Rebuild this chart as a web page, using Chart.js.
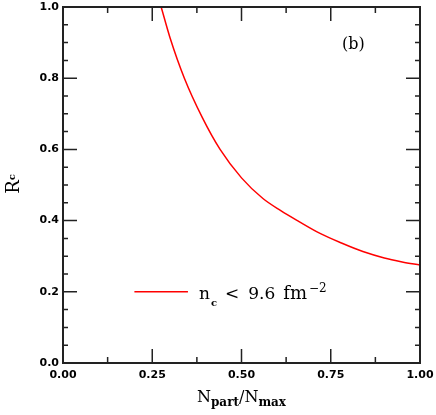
<!DOCTYPE html>
<html>
<head>
<meta charset="utf-8">
<script src="https://cdn.jsdelivr.net/npm/chart.js@4.4.1/dist/chart.umd.min.js"></script>
<style>
html, body { margin: 0; padding: 0; background: #fff; }
#wrap { width: 436px; height: 415px; }
</style>
</head>
<body>
<div id="wrap"><canvas id="rcChart"></canvas></div>
<script>
// N_part / N_max
const nPartValues = [0.275, 0.30, 0.34, 0.39, 0.44, 0.50, 0.56, 0.61, 0.66, 0.72, 0.78, 0.84, 0.90, 0.95, 1.00];
// R_c
const rcValues = [1.00, 0.913, 0.80, 0.69, 0.60, 0.52, 0.462, 0.428, 0.398, 0.364, 0.337, 0.313, 0.295, 0.284, 0.275];

const xTickValues = [0, 0.25, 0.5, 0.75, 1.0];
const yTickValues = [0, 0.2, 0.4, 0.6, 0.8, 1.0];
const xMinorStep = 0.125;
const yMinorStep = 0.05;

const legendLineX = [0.2, 0.35];
const legendLineY = 0.2;
const legendLabel = ['n', 'c', '<', '9.6', 'fm', '\u22122'];
const panelLabel = '(b)';

const curveColor = '#ff0000';
const frameColor = '#222';
const serif = '"DejaVu Serif", "Liberation Serif", serif';

// pieces: [text, font, dy, gapAfter]
function drawPieces(ctx, pieces, x, y) {
    let cx = x;
    pieces.forEach(p => {
        ctx.font = p[1];
        ctx.fillText(p[0], cx, y + p[2]);
        cx += ctx.measureText(p[0]).width + (p[3] || 0);
    });
    return cx;
}

function piecesWidth(ctx, pieces) {
    let w = 0;
    pieces.forEach(p => {
        ctx.font = p[1];
        w += ctx.measureText(p[0]).width + (p[3] || 0);
    });
    return w;
}

const framePlugin = {
    id: 'frameTicks',
    afterDraw(chart) {
        const ctx = chart.ctx;
        const area = chart.chartArea;
        const xs = chart.scales.x;
        const ys = chart.scales.y;
        ctx.save();

        // ticks on all four sides, pointing inward
        ctx.strokeStyle = frameColor;
        ctx.lineWidth = 1.5;
        ctx.beginPath();
        for (let i = 0; i * xMinorStep <= 1.0001; i++) {
            const px = xs.getPixelForValue(i * xMinorStep);
            const len = (i % 2 === 0) ? 14 : 6;
            ctx.moveTo(px, area.bottom); ctx.lineTo(px, area.bottom - len);
            ctx.moveTo(px, area.top); ctx.lineTo(px, area.top + len);
        }
        for (let i = 0; i * yMinorStep <= 1.0001; i++) {
            const py = ys.getPixelForValue(i * yMinorStep);
            const len = (i % 4 === 0) ? 14 : 5;
            ctx.moveTo(area.left, py); ctx.lineTo(area.left + len, py);
            ctx.moveTo(area.right, py); ctx.lineTo(area.right - len, py);
        }
        ctx.stroke();

        // frame
        ctx.lineWidth = 2;
        ctx.strokeRect(area.left, area.top, area.right - area.left, area.bottom - area.top);

        ctx.fillStyle = '#000';
        ctx.textBaseline = 'alphabetic';
        ctx.textAlign = 'left';

        // legend
        ctx.strokeStyle = curveColor;
        ctx.lineWidth = 1.5;
        const ly = ys.getPixelForValue(legendLineY);
        ctx.beginPath();
        ctx.moveTo(xs.getPixelForValue(legendLineX[0]), ly);
        ctx.lineTo(xs.getPixelForValue(legendLineX[1]), ly);
        ctx.stroke();
        const lx = xs.getPixelForValue(legendLineX[1]) + 11;
        drawPieces(ctx, [
            [legendLabel[0], '17px ' + serif, 0, 1],
            [legendLabel[1], 'bold 10px ' + serif, 7, 8],
            [legendLabel[2], '17px ' + serif, 0, 9],
            [legendLabel[3], '17px ' + serif, 0, 8],
            [legendLabel[4], '18px ' + serif, 0, 2],
            [legendLabel[5], '12px ' + serif, -7, 0]
        ], lx, ly + 7);

        // panel label
        ctx.font = '16px ' + serif;
        ctx.fillText(panelLabel, 342, 49);

        // x title
        const xt = [
            ['N', '16px ' + serif, 0, 0],
            ['part', 'bold 12px ' + serif, 4, 0],
            ['/', '16px ' + serif, 0, 0],
            ['N', '16px ' + serif, 0, 0],
            ['max', 'bold 12px ' + serif, 4, 0]
        ];
        const cxm = (area.left + area.right) / 2;
        drawPieces(ctx, xt, cxm - piecesWidth(ctx, xt) / 2, 402);

        // y title
        const yt = [
            ['R', '18px ' + serif, 0, 0],
            ['c', 'bold 10px ' + serif, -4, 0]
        ];
        ctx.translate(19, 184);
        ctx.rotate(-Math.PI / 2);
        drawPieces(ctx, yt, -piecesWidth(ctx, yt) / 2, 0);

        ctx.restore();
    }
};

new Chart(document.getElementById('rcChart'), {
    type: 'line',
    data: {
        datasets: [{
            data: nPartValues.map((x, i) => ({ x: x, y: rcValues[i] })),
            borderColor: curveColor,
            borderWidth: 1.5,
            pointRadius: 0,
            cubicInterpolationMode: 'monotone',
            fill: false
        }]
    },
    options: {
        responsive: true,
        maintainAspectRatio: false,
        animation: false,
        layout: { padding: { top: 7, right: 16, left: 0, bottom: 0 } },
        plugins: { legend: { display: false }, tooltip: { enabled: false } },
        scales: {
            x: {
                type: 'linear',
                min: 0,
                max: 1,
                afterBuildTicks: scale => { scale.ticks = xTickValues.map(v => ({ value: v })); },
                afterFit: scale => {
                    scale.height = 52;
                    scale.paddingLeft = 0;
                    scale.paddingRight = 0;
                },
                grid: { display: false, drawTicks: false },
                border: { display: false },
                ticks: {
                    padding: 6,
                    color: '#000',
                    font: { family: '"DejaVu Sans"', weight: 'bold', size: 11 },
                    callback: v => v.toFixed(2)
                }
            },
            y: {
                type: 'linear',
                min: 0,
                max: 1,
                afterBuildTicks: scale => { scale.ticks = yTickValues.map(v => ({ value: v })); },
                afterFit: scale => {
                    scale.width = 63;
                    scale.paddingTop = 0;
                    scale.paddingBottom = 0;
                },
                grid: { display: false, drawTicks: false },
                border: { display: false },
                ticks: {
                    padding: 4,
                    color: '#000',
                    font: { family: '"DejaVu Sans"', weight: 'bold', size: 11 },
                    callback: v => v.toFixed(1)
                }
            }
        }
    },
    plugins: [framePlugin]
});
</script>
</body>
</html>
